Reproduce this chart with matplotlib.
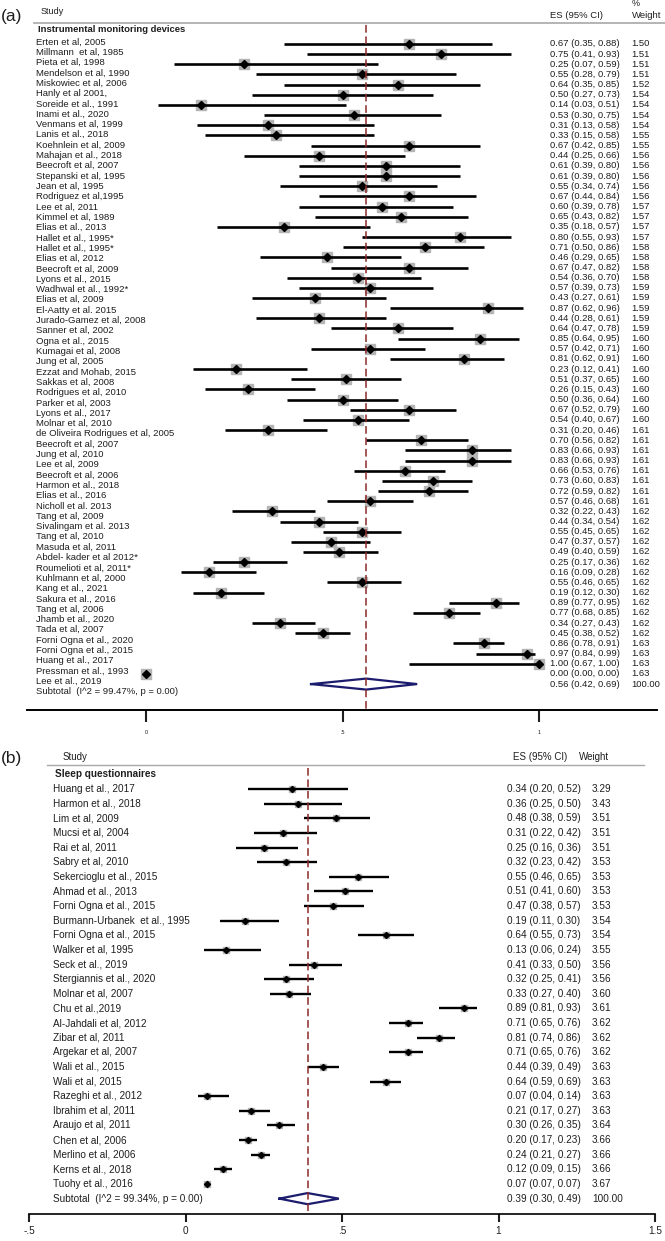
import numpy as np
import matplotlib
matplotlib.use("Agg")
import matplotlib.pyplot as plt
from matplotlib.transforms import blended_transform_factory

# ---------------- data: panel (a) instrumental monitoring devices
studies_a = [
    "Erten et al, 2005", "Millmann  et al, 1985", "Pieta et al, 1998",
    "Mendelson et al, 1990", "Miskowiec et al, 2006", "Hanly et al 2001,",
    "Soreide et al., 1991", "Inami et al., 2020", "Venmans et al, 1999",
    "Lanis et al., 2018", "Koehnlein et al, 2009", "Mahajan et al., 2018",
    "Beecroft et al, 2007", "Stepanski et al, 1995", "Jean et al, 1995",
    "Rodriguez et al,1995", "Lee et al, 2011", "Kimmel et al, 1989",
    "Elias et al., 2013", "Hallet et al., 1995*", "Hallet et al., 1995*",
    "Elias et al, 2012", "Beecroft et al, 2009", "Lyons et al., 2015",
    "Wadhwal et al., 1992*", "Elias et al, 2009", "El-Aatty et al. 2015",
    "Jurado-Gamez et al, 2008", "Sanner et al, 2002", "Ogna et al., 2015",
    "Kumagai et al, 2008", "Jung et al, 2005", "Ezzat and Mohab, 2015",
    "Sakkas et al, 2008", "Rodrigues et al, 2010", "Parker et al, 2003",
    "Lyons et al., 2017", "Molnar et al, 2010",
    "de Oliveira Rodrigues et al, 2005", "Beecroft et al, 2007",
    "Jung et al, 2010", "Lee et al, 2009", "Beecroft et al, 2006",
    "Harmon et al., 2018", "Elias et al., 2016", "Nicholl et al. 2013",
    "Tang et al, 2009", "Sivalingam et al. 2013", "Tang et al, 2010",
    "Masuda et al, 2011", "Abdel- kader et al 2012*", "Roumelioti et al, 2011*",
    "Kuhlmann et al, 2000", "Kang et al., 2021", "Sakura et al., 2016",
    "Tang et al, 2006", "Jhamb et al., 2020", "Tada et al, 2007",
    "Forni Ogna et al., 2020", "Forni Ogna et al., 2015", "Huang et al., 2017",
    "Pressman et al., 1993", "Lee et al., 2019",
]
es_a = [0.67, 0.75, 0.25, 0.55, 0.64, 0.50, 0.14, 0.53, 0.31, 0.33,
        0.67, 0.44, 0.61, 0.61, 0.55, 0.67, 0.60, 0.65, 0.35, 0.80,
        0.71, 0.46, 0.67, 0.54, 0.57, 0.43, 0.87, 0.44, 0.64, 0.85,
        0.57, 0.81, 0.23, 0.51, 0.26, 0.50, 0.67, 0.54, 0.31, 0.70,
        0.83, 0.83, 0.66, 0.73, 0.72, 0.57, 0.32, 0.44, 0.55, 0.47,
        0.49, 0.25, 0.16, 0.55, 0.19, 0.89, 0.77, 0.34, 0.45, 0.86,
        0.97, 1.00, 0.00]
lo_a = [0.35, 0.41, 0.07, 0.28, 0.35, 0.27, 0.03, 0.30, 0.13, 0.15,
        0.42, 0.25, 0.39, 0.39, 0.34, 0.44, 0.39, 0.43, 0.18, 0.55,
        0.50, 0.29, 0.47, 0.36, 0.39, 0.27, 0.62, 0.28, 0.47, 0.64,
        0.42, 0.62, 0.12, 0.37, 0.15, 0.36, 0.52, 0.40, 0.20, 0.56,
        0.66, 0.66, 0.53, 0.60, 0.59, 0.46, 0.22, 0.34, 0.45, 0.37,
        0.40, 0.17, 0.09, 0.46, 0.12, 0.77, 0.68, 0.27, 0.38, 0.78,
        0.84, 0.67, 0.00]
hi_a = [0.88, 0.93, 0.59, 0.79, 0.85, 0.73, 0.51, 0.75, 0.58, 0.58,
        0.85, 0.66, 0.80, 0.80, 0.74, 0.84, 0.78, 0.82, 0.57, 0.93,
        0.86, 0.65, 0.82, 0.70, 0.73, 0.61, 0.96, 0.61, 0.78, 0.95,
        0.71, 0.91, 0.41, 0.65, 0.43, 0.64, 0.79, 0.67, 0.46, 0.82,
        0.93, 0.93, 0.76, 0.83, 0.82, 0.68, 0.43, 0.54, 0.65, 0.57,
        0.59, 0.36, 0.28, 0.65, 0.30, 0.95, 0.85, 0.43, 0.52, 0.91,
        0.99, 1.00, 0.00]
wt_a = [1.50, 1.51, 1.51, 1.51, 1.52, 1.54, 1.54, 1.54, 1.54, 1.55,
        1.55, 1.56, 1.56, 1.56, 1.56, 1.56, 1.57, 1.57, 1.57, 1.57,
        1.58, 1.58, 1.58, 1.58, 1.59, 1.59, 1.59, 1.59, 1.59, 1.60,
        1.60, 1.60, 1.60, 1.60, 1.60, 1.60, 1.60, 1.60, 1.61, 1.61,
        1.61, 1.61, 1.61, 1.61, 1.61, 1.61, 1.62, 1.62, 1.62, 1.62,
        1.62, 1.62, 1.62, 1.62, 1.62, 1.62, 1.62, 1.62, 1.62, 1.63,
        1.63, 1.63, 1.63]
pooled_a = [0.56, 0.42, 0.69]
i2_a = 99.47
ticks_a = [0, 0.5, 1]
ticklabels_a = ["0", ".5", "1"]

# ---------------- data: panel (b) sleep questionnaires
studies_b = [
    "Huang et al., 2017", "Harmon et al., 2018", "Lim et al, 2009",
    "Mucsi et al, 2004", "Rai et al, 2011", "Sabry et al, 2010",
    "Sekercioglu et al., 2015", "Ahmad et al., 2013", "Forni Ogna et al., 2015",
    "Burmann-Urbanek  et al., 1995", "Forni Ogna et al., 2015",
    "Walker et al, 1995", "Seck et al., 2019", "Stergiannis et al., 2020",
    "Molnar et al, 2007", "Chu et al.,2019", "Al-Jahdali et al, 2012",
    "Zibar et al, 2011", "Argekar et al, 2007", "Wali et al., 2015",
    "Wali et al, 2015", "Razeghi et al., 2012", "Ibrahim et al, 2011",
    "Araujo et al, 2011", "Chen et al, 2006", "Merlino et al, 2006",
    "Kerns et al., 2018", "Tuohy et al., 2016",
]
es_b = [0.34, 0.36, 0.48, 0.31, 0.25, 0.32, 0.55, 0.51, 0.47, 0.19,
        0.64, 0.13, 0.41, 0.32, 0.33, 0.89, 0.71, 0.81, 0.71, 0.44,
        0.64, 0.07, 0.21, 0.30, 0.20, 0.24, 0.12, 0.07]
lo_b = [0.20, 0.25, 0.38, 0.22, 0.16, 0.23, 0.46, 0.41, 0.38, 0.11,
        0.55, 0.06, 0.33, 0.25, 0.27, 0.81, 0.65, 0.74, 0.65, 0.39,
        0.59, 0.04, 0.17, 0.26, 0.17, 0.21, 0.09, 0.07]
hi_b = [0.52, 0.50, 0.59, 0.42, 0.36, 0.42, 0.65, 0.60, 0.57, 0.30,
        0.73, 0.24, 0.50, 0.41, 0.40, 0.93, 0.76, 0.86, 0.76, 0.49,
        0.69, 0.14, 0.27, 0.35, 0.23, 0.27, 0.15, 0.07]
wt_b = [3.29, 3.43, 3.51, 3.51, 3.51, 3.53, 3.53, 3.53, 3.53, 3.54,
        3.54, 3.55, 3.56, 3.56, 3.60, 3.61, 3.62, 3.62, 3.62, 3.63,
        3.63, 3.63, 3.63, 3.64, 3.66, 3.66, 3.66, 3.67]
pooled_b = [0.39, 0.30, 0.49]
i2_b = 99.34
ticks_b = [-0.5, 0, 0.5, 1, 1.5]
ticklabels_b = ["-.5", "0", ".5", "1", "1.5"]

# ---------------- layout (pixels of a 665 x 1241 canvas)
W, H = 665, 1241
plt.rcParams['font.family'] = ['Liberation Sans', 'DejaVu Sans']
TXT = '#1e1e1e'
SQ = '#b4b4b4'
REF = '#8b2a2a'
NAVY = '#1c1c6e'
HDR = '#a8a8a8'

fig = plt.figure(figsize=(W / 100, H / 100), dpi=100)


def fx(px):
    return px / W


def fy(py):
    return 1 - py / H


def panel(top, bottom, left, right, x0px, x1px, xlim, row0, rowstep):
    ax = fig.add_axes([fx(left), fy(bottom), fx(right - left), (bottom - top) / H])
    # map pixel columns left..right onto effect-size values
    scale = (x1px - x0px) / (xlim[1] - xlim[0])
    ax.set_xlim(xlim[0] - (x0px - left) / scale, xlim[1] + (right - x1px) / scale)
    ax.set_ylim((bottom - row0) / rowstep, (top - row0) / rowstep)
    for s in ['left', 'right', 'top']:
        ax.spines[s].set_visible(False)
    ax.set_yticks([])
    ax.patch.set_alpha(0)
    return ax


def draw_panel(ax, es, lo, hi, pooled, sq_ms, dm_ms, lw, dia_h, ref_top, axis_row):
    rows = np.arange(len(es))
    ax.plot(es, rows, 's', color=SQ, ms=sq_ms, zorder=2)
    ax.hlines(rows, lo, hi, color='black', lw=lw, zorder=3)
    ax.plot(es, rows, 'D', color='black', ms=dm_ms, zorder=4)
    r = len(es)
    px = [pooled[1], pooled[0], pooled[2], pooled[0], pooled[1]]
    py = [r, r - dia_h, r, r + dia_h, r]
    ax.fill(px, py, color='white', zorder=4)
    ax.plot(px, py, color=NAVY, lw=1.6, zorder=5, solid_joinstyle='miter')
    ax.plot([pooled[0], pooled[0]], [ref_top, axis_row], color=REF, lw=1.1,
            dashes=(5, 2.5), zorder=6)


# ---------------- panel (a)
row0_a, step_a = 44, 10.16
ax_a = panel(0, 745, 27, 657, 146, 539, (0, 1), row0_a, step_a)
axis_row_a = (710 - row0_a) / step_a
draw_panel(ax_a, es_a, lo_a, hi_a, pooled_a, 6.6, 4.0, 1.9, 0.54,
           (25 - row0_a) / step_a, axis_row_a)
ax_a.spines['bottom'].set_position(('data', axis_row_a))
ax_a.spines['bottom'].set_linewidth(1.4)
ax_a.set_xticks(ticks_a)
ax_a.set_xticklabels(ticklabels_a)
ax_a.tick_params(axis='x', direction='out', length=8.6, width=1.5, labelsize=4,
                 pad=5.5, colors=TXT)

ta = blended_transform_factory(fig.transFigure, ax_a.transData)
fs_a = 6.8
n_a = len(studies_a)
lab_rows_a = -0.2 + 1.015 * np.arange(n_a + 1)
for i, name in enumerate(studies_a):
    ax_a.text(fx(36), lab_rows_a[i], name, transform=ta, fontsize=fs_a,
              va='center', ha='left', color=TXT)
    ax_a.text(fx(550), i, f"{es_a[i]:.2f} ({lo_a[i]:.2f}, {hi_a[i]:.2f})",
              transform=ta, fontsize=fs_a, va='center', color=TXT)
    ax_a.text(fx(631), i, f"{wt_a[i]:.2f}", transform=ta, fontsize=fs_a,
              va='center', color=TXT)
ax_a.text(fx(36), lab_rows_a[n_a], f"Subtotal  (I^2 = {i2_a:.2f}%, p = 0.00)",
          transform=ta, fontsize=fs_a, va='center', color=TXT)
ax_a.text(fx(550), n_a, f"{pooled_a[0]:.2f} ({pooled_a[1]:.2f}, {pooled_a[2]:.2f})",
          transform=ta, fontsize=fs_a, va='center', color=TXT)
ax_a.text(fx(631), n_a, "100.00", transform=ta, fontsize=fs_a, va='center', color=TXT)

fig.text(fx(1), fy(17), "(a)", fontsize=12.5, va='center', color=TXT)
fig.text(fx(41), fy(11), "Study", fontsize=6.5, va='center', color=TXT)
fig.text(fx(550), fy(15), "ES (95% CI)", fontsize=6.8, va='center', color=TXT)
fig.text(fx(632), fy(4), "%", fontsize=6.5, va='center', color=TXT)
fig.text(fx(632), fy(16), "Weight", fontsize=6.8, va='center', color=TXT)
fig.add_artist(plt.Line2D([fx(34), fx(665)], [fy(23), fy(23)], color=HDR, lw=1.2))
fig.text(fx(38), fy(29), "Instrumental monitoring devices", fontsize=6.8,
         fontweight='bold', va='center', color=TXT)

# ---------------- panel (b)
row0_b, step_b = 789, 14.63
ax_b = panel(745, 1241, 29, 655, 29, 655, (-0.5, 1.5), row0_b, step_b)
axis_row_b = (1214 - row0_b) / step_b
draw_panel(ax_b, es_b, lo_b, hi_b, pooled_b, 4.8, 3.1, 1.7, 0.38,
           (768 - row0_b) / step_b, axis_row_b)
ax_b.spines['bottom'].set_position(('data', axis_row_b))
ax_b.spines['bottom'].set_linewidth(1.2)
ax_b.set_xticks(ticks_b)
ax_b.set_xticklabels(ticklabels_b)
ax_b.tick_params(axis='x', direction='out', length=5.8, width=1.5, labelsize=7.2,
                 pad=3, colors=TXT)

tb = blended_transform_factory(fig.transFigure, ax_b.transData)
fs_b = 7.2
n_b = len(studies_b)
for i, name in enumerate(studies_b):
    ax_b.text(fx(53), i, name, transform=tb, fontsize=fs_b, va='center', color=TXT)
    ax_b.text(fx(507), i, f"{es_b[i]:.2f} ({lo_b[i]:.2f}, {hi_b[i]:.2f})",
              transform=tb, fontsize=fs_b, va='center', color=TXT)
    ax_b.text(fx(592), i, f"{wt_b[i]:.2f}", transform=tb, fontsize=fs_b,
              va='center', color=TXT)
ax_b.text(fx(53), n_b, f"Subtotal  (I^2 = {i2_b:.2f}%, p = 0.00)",
          transform=tb, fontsize=fs_b, va='center', color=TXT)
ax_b.text(fx(507), n_b, f"{pooled_b[0]:.2f} ({pooled_b[1]:.2f}, {pooled_b[2]:.2f})",
          transform=tb, fontsize=fs_b, va='center', color=TXT)
ax_b.text(fx(592), n_b, "100.00", transform=tb, fontsize=fs_b, va='center', color=TXT)

fig.text(fx(1), fy(759), "(b)", fontsize=12.5, va='center', color=TXT)
fig.text(fx(63), fy(757), "Study", fontsize=7, va='center', color=TXT)
fig.text(fx(513), fy(757), "ES (95% CI)", fontsize=7, va='center', color=TXT)
fig.text(fx(579), fy(757), "Weight", fontsize=7, va='center', color=TXT)
fig.add_artist(plt.Line2D([fx(47), fx(644)], [fy(765), fy(765)], color=HDR, lw=1.0))
fig.text(fx(55), fy(774), "Sleep questionnaires", fontsize=7.2,
         fontweight='bold', va='center', color=TXT)

fig.savefig("out.png", dpi=100, facecolor='white')
